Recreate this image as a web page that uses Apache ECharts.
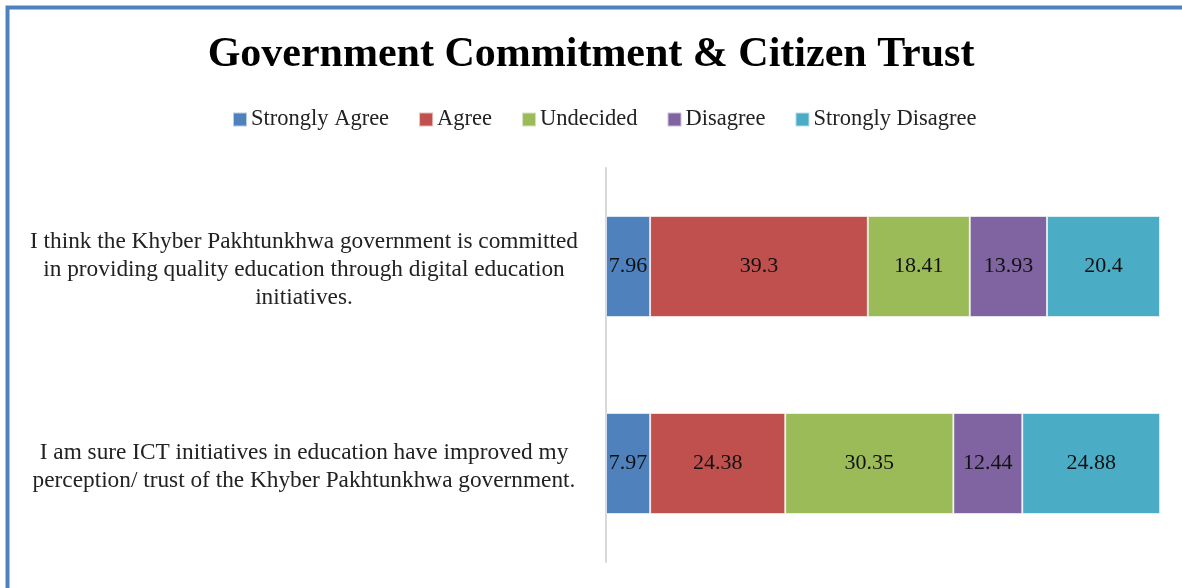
<!DOCTYPE html>
<html>
<head>
<meta charset="utf-8">
<script src="https://cdn.jsdelivr.net/npm/echarts@6/dist/echarts.min.js"></script>
<style>
  html, body { margin: 0; padding: 0; background: #fff; }
  #chart { width: 1182px; height: 588px; }
</style>
</head>
<body>
<div id="chart"></div>
<script>
// Survey statements (top to bottom)
const statements = [
  'I think the Khyber Pakhtunkhwa government is committed\nin providing quality education through digital education\ninitiatives.',
  'I am sure ICT initiatives in education have improved my\nperception/ trust of the Khyber Pakhtunkhwa government.'
];

// Response shares (%) per statement
const stronglyAgree    = [7.96, 7.97];
const agree            = [39.3, 24.38];
const undecided        = [18.41, 30.35];
const disagree         = [13.93, 12.44];
const stronglyDisagree = [20.4, 24.88];

const seriesNames  = ['Strongly Agree', 'Agree', 'Undecided', 'Disagree', 'Strongly Disagree'];
const seriesValues = [stronglyAgree, agree, undecided, disagree, stronglyDisagree];
const seriesColors = ['#4F81BD', '#C0504D', '#9BBB59', '#8064A2', '#4BACC6'];

const serif = "'Liberation Serif', 'DejaVu Serif', serif";

const chart = echarts.init(document.getElementById('chart'), null, { renderer: 'canvas' });

chart.setOption({
  backgroundColor: '#ffffff',
  animation: false,
  graphic: [{
    type: 'rect',
    shape: { x: 7.5, y: 7.5, width: 1200, height: 600 },
    style: { fill: 'none', stroke: '#4F81BD', lineWidth: 4 },
    silent: true,
    z: 100
  }],
  title: {
    text: 'Government Commitment & Citizen Trust',
    left: 'center',
    top: 29,
    textStyle: { fontFamily: serif, fontWeight: 'bold', fontSize: 42, color: '#000' }
  },
  legend: {
    top: 103,
    left: 227,
    itemWidth: 14,
    itemHeight: 14,
    itemGap: 29,
    icon: 'rect',
    textStyle: { fontFamily: serif, fontSize: 22.5, color: '#222', padding: [0, 0, 0, -1] },
    data: seriesNames
  },
  grid: { left: 606, right: 22, top: 168, bottom: 26, containLabel: false },
  xAxis: {
    type: 'value',
    min: 0,
    max: 100,
    show: false
  },
  yAxis: {
    type: 'category',
    inverse: true,
    data: statements,
    axisLine: { show: true, lineStyle: { color: '#D9D9D9', width: 2 } },
    axisTick: { show: false },
    axisLabel: {
      margin: 302,
      align: 'center',
      // a thin spacer line above the statement nudges the block slightly down
      formatter: (v) => '{s|}\n' + v.split('\n').map((l) => '{t|' + l + '}').join('\n'),
      rich: {
        s: { lineHeight: 6, fontSize: 1 },
        t: { fontFamily: serif, fontSize: 23.3, lineHeight: 28, color: '#222', align: 'center' }
      },
      fontFamily: serif,
      fontSize: 23.3,
      lineHeight: 28,
      color: '#222'
    }
  },
  series: seriesNames.map((name, i) => ({
    name: name,
    type: 'bar',
    stack: 'total',
    barWidth: 101,
    data: seriesValues[i],
    itemStyle: { color: seriesColors[i], borderColor: 'rgba(255,255,255,0.6)', borderWidth: 1 },
    label: {
      show: true,
      position: 'inside',
      fontFamily: serif,
      fontSize: 22,
      color: '#111'
    }
  }))
});
</script>
</body>
</html>
